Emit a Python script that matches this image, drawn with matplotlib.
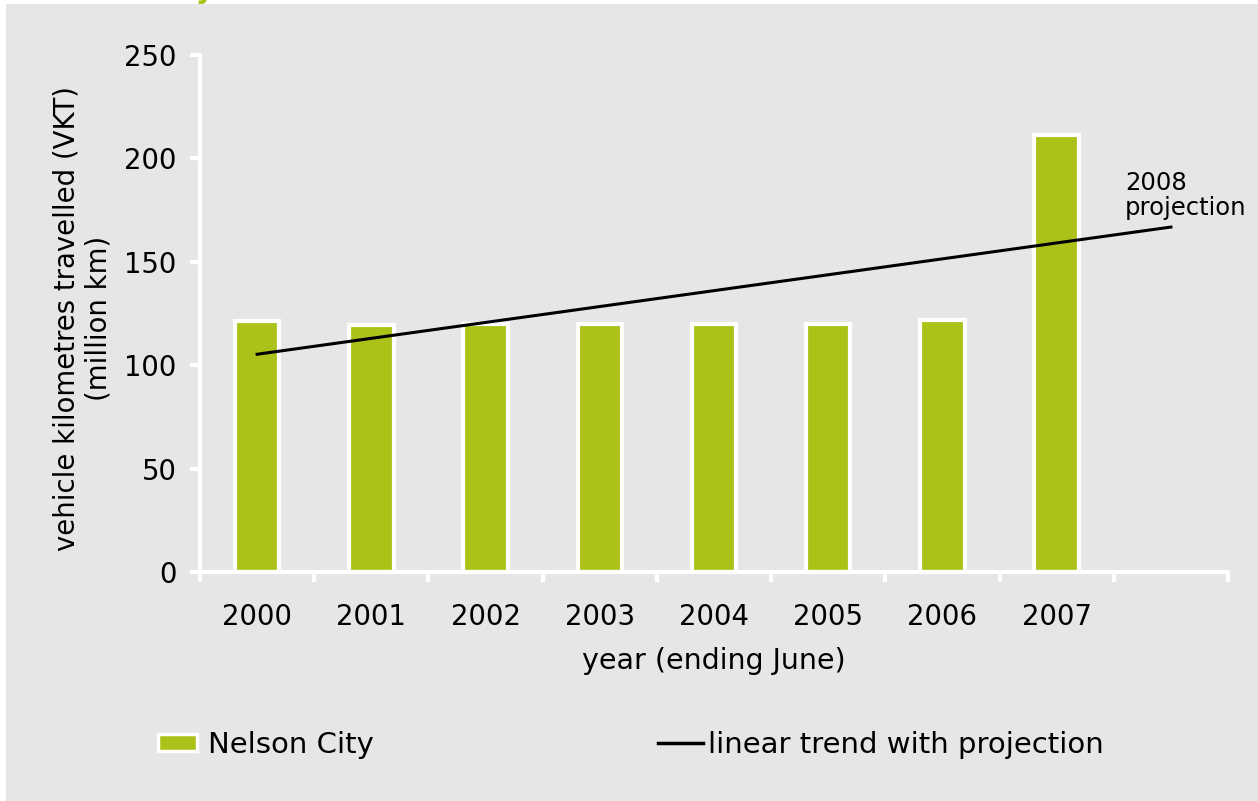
import numpy as np
import matplotlib
matplotlib.use('Agg')
import matplotlib.pyplot as plt
from matplotlib.patches import Rectangle, Patch
from matplotlib.lines import Line2D

# dados
anos = ['2000', '2001', '2002', '2003', '2004', '2005', '2006', '2007']
vkt = [121.5, 119.5, 120, 120, 120, 120, 122, 211.5]
# linha de tendência (início 2000, fim projeção 2008)
tendencia_pos = [0, 8]
tendencia_vals = [105.3, 166.8]

verde = '#acc218'
cinza = '#e6e6e6'

plt.rcParams['font.family'] = 'DejaVu Sans'

fig = plt.figure(figsize=(12.58, 8.01), dpi=100)
fig.patch.set_facecolor('white')
fig.patches.append(Rectangle((6 / 1258, 0), 1, 1 - 4 / 801, transform=fig.transFigure,
                             facecolor=cinza, edgecolor='none', zorder=-10))

# título cortado no topo
fig.text(0.1705, 1.003, 'Nelson City', ha='right', va='baseline', color=verde,
         fontsize=20, fontweight='bold')

ax = fig.add_axes([200 / 1258, 1 - 572 / 801, 1028 / 1258, (572 - 55) / 801])
ax.set_facecolor(cinza)

x = np.arange(len(anos))
ax.bar(x, vkt, width=0.39, color=verde, edgecolor='white', linewidth=3, zorder=2)
ax.plot(tendencia_pos, tendencia_vals, color='black', linewidth=2.2, zorder=3)
ax.text(7.6, 170, '2008\nprojection', fontsize=17.5, ha='left', va='bottom', linespacing=1.1)

ax.set_xlim(-0.5, 8.5)
ax.set_ylim(0, 250)
ax.set_yticks([0, 50, 100, 150, 200, 250])
ax.set_xticks(x)
ax.set_xticklabels(anos)
ax.set_xticks(np.arange(-0.5, 9, 1), minor=True)

for s in ['top', 'right']:
    ax.spines[s].set_visible(False)
for s in ['left', 'bottom']:
    ax.spines[s].set_color('white')
    ax.spines[s].set_linewidth(3)
    ax.spines[s].set_capstyle('round')

ax.tick_params(axis='y', direction='out', length=7, width=3, color='white',
               labelsize=19.8, pad=10)
ax.tick_params(axis='x', which='major', length=0, labelsize=19.8, pad=22)
ax.tick_params(axis='x', which='minor', direction='out', length=7, width=3, color='white')

ax.set_ylabel('vehicle kilometres travelled (VKT)\n(million km)', fontsize=19.8,
              linespacing=1.15)
ax.yaxis.set_label_coords(-0.0856, 0.49)
ax.set_xlabel('year (ending June)', fontsize=20.5, labelpad=12)

h1 = [Patch(facecolor=verde, edgecolor='white', linewidth=2.5)]
h2 = [Line2D([0], [0], color='black', linewidth=2.5)]
leg1 = fig.legend(h1, ['Nelson City'], loc='center left', bbox_to_anchor=(0.1256, 0.070),
                  frameon=False, fontsize=21, handlelength=1.35, handleheight=0.55,
                  handletextpad=0.35, borderpad=0, borderaxespad=0)
leg2 = fig.legend(h2, ['linear trend with projection'], loc='center left',
                  bbox_to_anchor=(0.523, 0.070), frameon=False, fontsize=21,
                  handlelength=1.55, handletextpad=0.15, borderpad=0, borderaxespad=0)

fig.savefig('out.png', dpi=100, facecolor=fig.get_facecolor())
